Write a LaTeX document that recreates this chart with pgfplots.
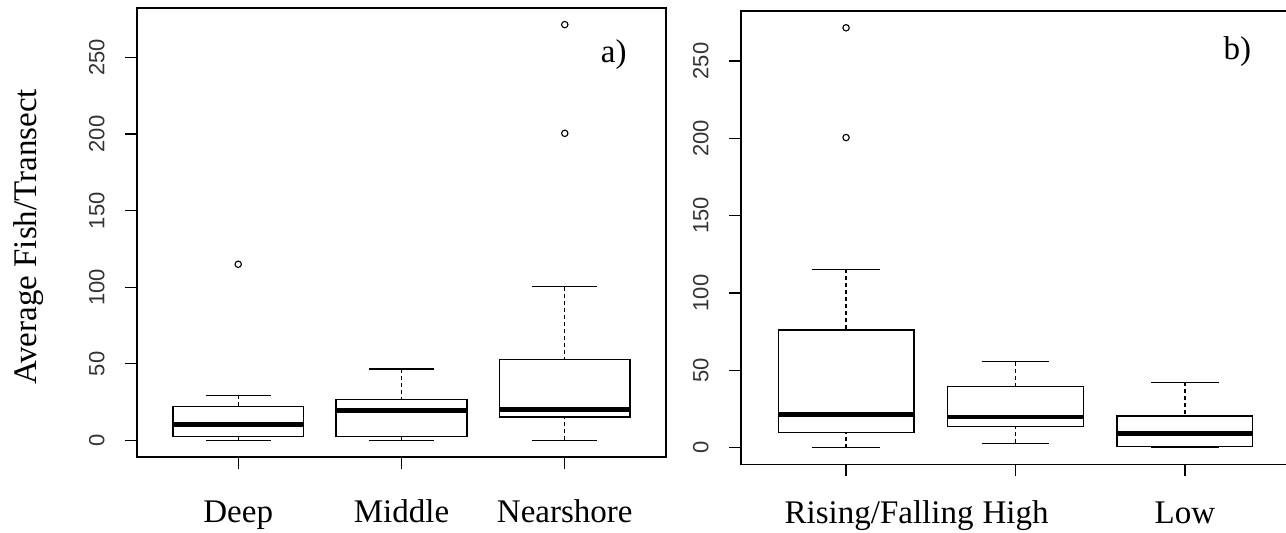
\documentclass[border=0pt]{standalone}
\usepackage{fontspec}
\setmainfont{Liberation Serif}
\newfontfamily\ticksans{Liberation Sans}
\usepackage{pgfplots}
\pgfplotsset{compat=1.18}
\usepgfplotslibrary{statistics}

% R-like boxplot frame
\pgfplotsset{
  rbox/.style={
    scale only axis,
    xmin=0.38, xmax=3.62, ymin=-10.86, ymax=282.36,
    axis line style={line width=0.7pt},
    tick style={black, line width=0.7pt},
    major tick length=6pt,
    tick align=outside,
    xtick pos=left, ytick pos=left,
    xtick={1,2,3},
    ytick={0,50,100,150,200,250},
    /pgf/number format/assume math mode=true,
    yticklabel style={font=\ticksans\fontsize{11}{13}\selectfont,
      rotate=90, anchor=south, inner sep=0pt, text=black!80},
    yticklabel shift=10pt,
    xticklabel style={font=\fontsize{16.5}{19}\selectfont, anchor=base, inner sep=0pt},
    xticklabel shift=27pt,
    boxplot/draw direction=y,
    boxplot/box extend=0.8,
    boxplot/whisker extend=0.4,
    boxplot/every box/.style={line width=0.7pt},
    boxplot/every median/.style={line width=2.4pt},
    boxplot/draw/lower whisker/.code={%
      \draw[line width=0.7pt, dash pattern=on 2pt off 1.5pt]
        (boxplot cs:\pgfplotsboxplotvalue{lower whisker},0)
        -- (boxplot cs:\pgfplotsboxplotvalue{lower quartile},0);
      \draw[line width=0.7pt]
        (boxplot whisker cs:\pgfplotsboxplotvalue{lower whisker},0)
        -- (boxplot whisker cs:\pgfplotsboxplotvalue{lower whisker},1);
    },
    boxplot/draw/upper whisker/.code={%
      \draw[line width=0.7pt, dash pattern=on 2pt off 1.5pt]
        (boxplot cs:\pgfplotsboxplotvalue{upper whisker},0)
        -- (boxplot cs:\pgfplotsboxplotvalue{upper quartile},0);
      \draw[line width=0.7pt]
        (boxplot whisker cs:\pgfplotsboxplotvalue{upper whisker},0)
        -- (boxplot whisker cs:\pgfplotsboxplotvalue{upper whisker},1);
    },
  },
  rplot/.style={black, mark=o, mark size=1.6pt, mark options={line width=0.55pt}},
}

\begin{document}
\begin{tikzpicture}
\path[use as bounding box] (0,0) rectangle (643pt,266.5pt);

% a) site position
\begin{axis}[rbox,
  at={(68.5pt,38pt)}, anchor=south west,
  width=264.5pt, height=224.5pt,
  xticklabels={Deep, Middle, Nearshore},
  ylabel={Average Fish/Transect},
  every axis y label/.style={at={(axis description cs:-0.204,0.49)},
    rotate=90, anchor=center, font=\fontsize{16.5}{19}\selectfont},
]
\addplot[rplot, boxplot prepared={draw position=1,
  lower whisker=0, lower quartile=2.6, median=10.5,
  upper quartile=22.2, upper whisker=29.4}]
  table[row sep=\\, y index=0] {v\\ 115\\};
\addplot[rplot, boxplot prepared={draw position=2,
  lower whisker=0, lower quartile=2.6, median=19.6,
  upper quartile=26.6, upper whisker=46.7}] coordinates {};
\addplot[rplot, boxplot prepared={draw position=3,
  lower whisker=0, lower quartile=15.2, median=20.3,
  upper quartile=52.7, upper whisker=100.3}]
  table[row sep=\\, y index=0] {v\\ 200.5\\ 271.5\\};
\node[font=\fontsize{16.5}{19}\selectfont, anchor=base] at (axis cs:3.30,246.5) {a)};
\end{axis}

% b) tide stage
\begin{axis}[rbox,
  at={(370.5pt,34.35pt)}, anchor=south west,
  width=274.5pt, height=226.65pt,
  xticklabel shift=23.5pt,
  xticklabels={\hspace*{33pt}Rising/Falling, High, Low},
]
\addplot[rplot, boxplot prepared={draw position=1,
  lower whisker=0, lower quartile=9.7, median=21.2,
  upper quartile=76.1, upper whisker=115.2}]
  table[row sep=\\, y index=0] {v\\ 200.5\\ 271.5\\};
\addplot[rplot, boxplot prepared={draw position=2,
  lower whisker=2.6, lower quartile=13.4, median=19.7,
  upper quartile=39.3, upper whisker=55.5}] coordinates {};
\addplot[rplot, boxplot prepared={draw position=3,
  lower whisker=0, lower quartile=0.6, median=8.9,
  upper quartile=20.3, upper whisker=42.1}] coordinates {};
\node[font=\fontsize{16.5}{19}\selectfont, anchor=base] at (axis cs:3.31,250.7) {b)};
\end{axis}
\end{tikzpicture}
\end{document}
